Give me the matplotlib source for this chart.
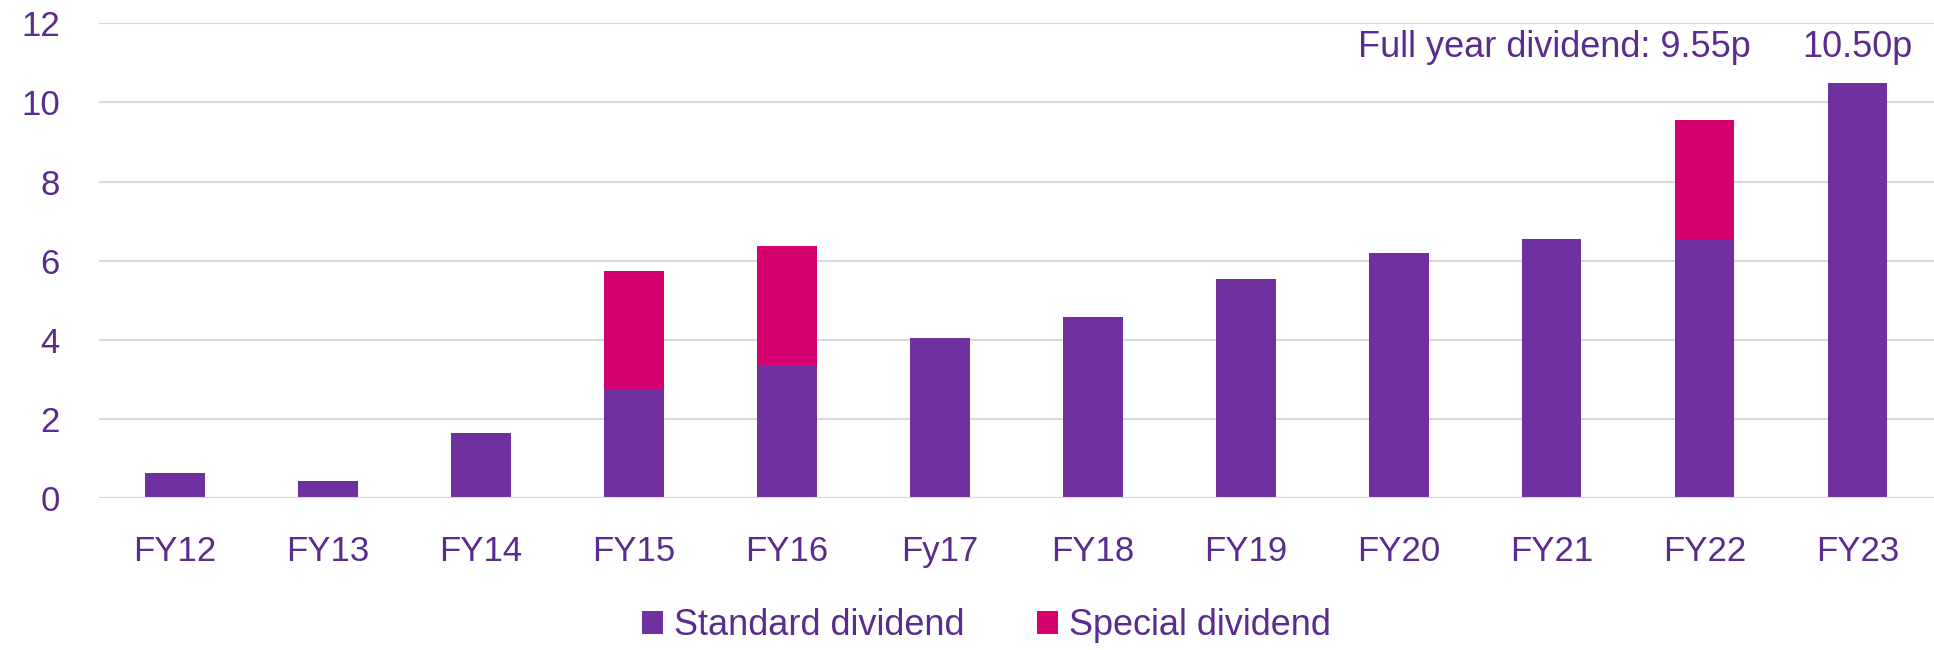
import numpy as np
import matplotlib.pyplot as plt

plt.rcParams["font.family"] = ["Liberation Sans", "DejaVu Sans"]

years = ["FY12", "FY13", "FY14", "FY15", "FY16", "Fy17", "FY18", "FY19", "FY20", "FY21", "FY22", "FY23"]
standard = [0.63, 0.42, 1.64, 2.75, 3.37, 4.05, 4.58, 5.54, 6.2, 6.55, 6.55, 10.5]
special = [0, 0, 0, 3.0, 3.0, 0, 0, 0, 0, 0, 3.0, 0]
yticks = [0, 2, 4, 6, 8, 10, 12]

purple = "#7030A0"
pink = "#D40070"
text_col = "#5B2C8F"
grid_col = "#D9D9D9"

fig = plt.figure(figsize=(19.34, 6.5), dpi=100)
ax = fig.add_axes([0.051, 0.234, 0.949, 0.73])

x = np.arange(len(years))
ax.bar(x, standard, width=0.39, color=purple, label="Standard dividend", zorder=3)
ax.bar(x, special, width=0.39, bottom=standard, color=pink, label="Special dividend", zorder=3)

ax.set_xlim(-0.5, len(years) - 0.5)
ax.set_ylim(0, 12)
ax.set_yticks(yticks)
ax.set_xticks(x)
ax.set_xticklabels(years)
ax.yaxis.grid(True, color=grid_col, linewidth=1.5, zorder=0)
ax.set_axisbelow(True)
for s in ax.spines.values():
    s.set_visible(False)
ax.axhline(0, color=grid_col, linewidth=1.5, zorder=4)
ax.tick_params(axis="both", length=0, labelsize=25, colors=text_col)
ax.tick_params(axis="x", pad=27)
ax.tick_params(axis="y", pad=28)
for lbl in ax.get_yticklabels():
    lbl.set_clip_on(False)

# full year labels above the last two bars
ax.text(10 + 0.3, 11.4, "Full year dividend: 9.55p", ha="right", va="center",
        fontsize=26, color=text_col, clip_on=False)
ax.text(11, 11.4, "10.50p", ha="center", va="center", fontsize=26, color=text_col, clip_on=False)

leg = fig.legend(loc="center", bbox_to_anchor=(0.51, 0.037), ncol=2, frameon=False,
                 fontsize=26, handlelength=0.6, handleheight=0.6, columnspacing=2.0,
                 handletextpad=0.3)
for t in leg.get_texts():
    t.set_color(text_col)

fig.savefig("out.png", dpi=100)
